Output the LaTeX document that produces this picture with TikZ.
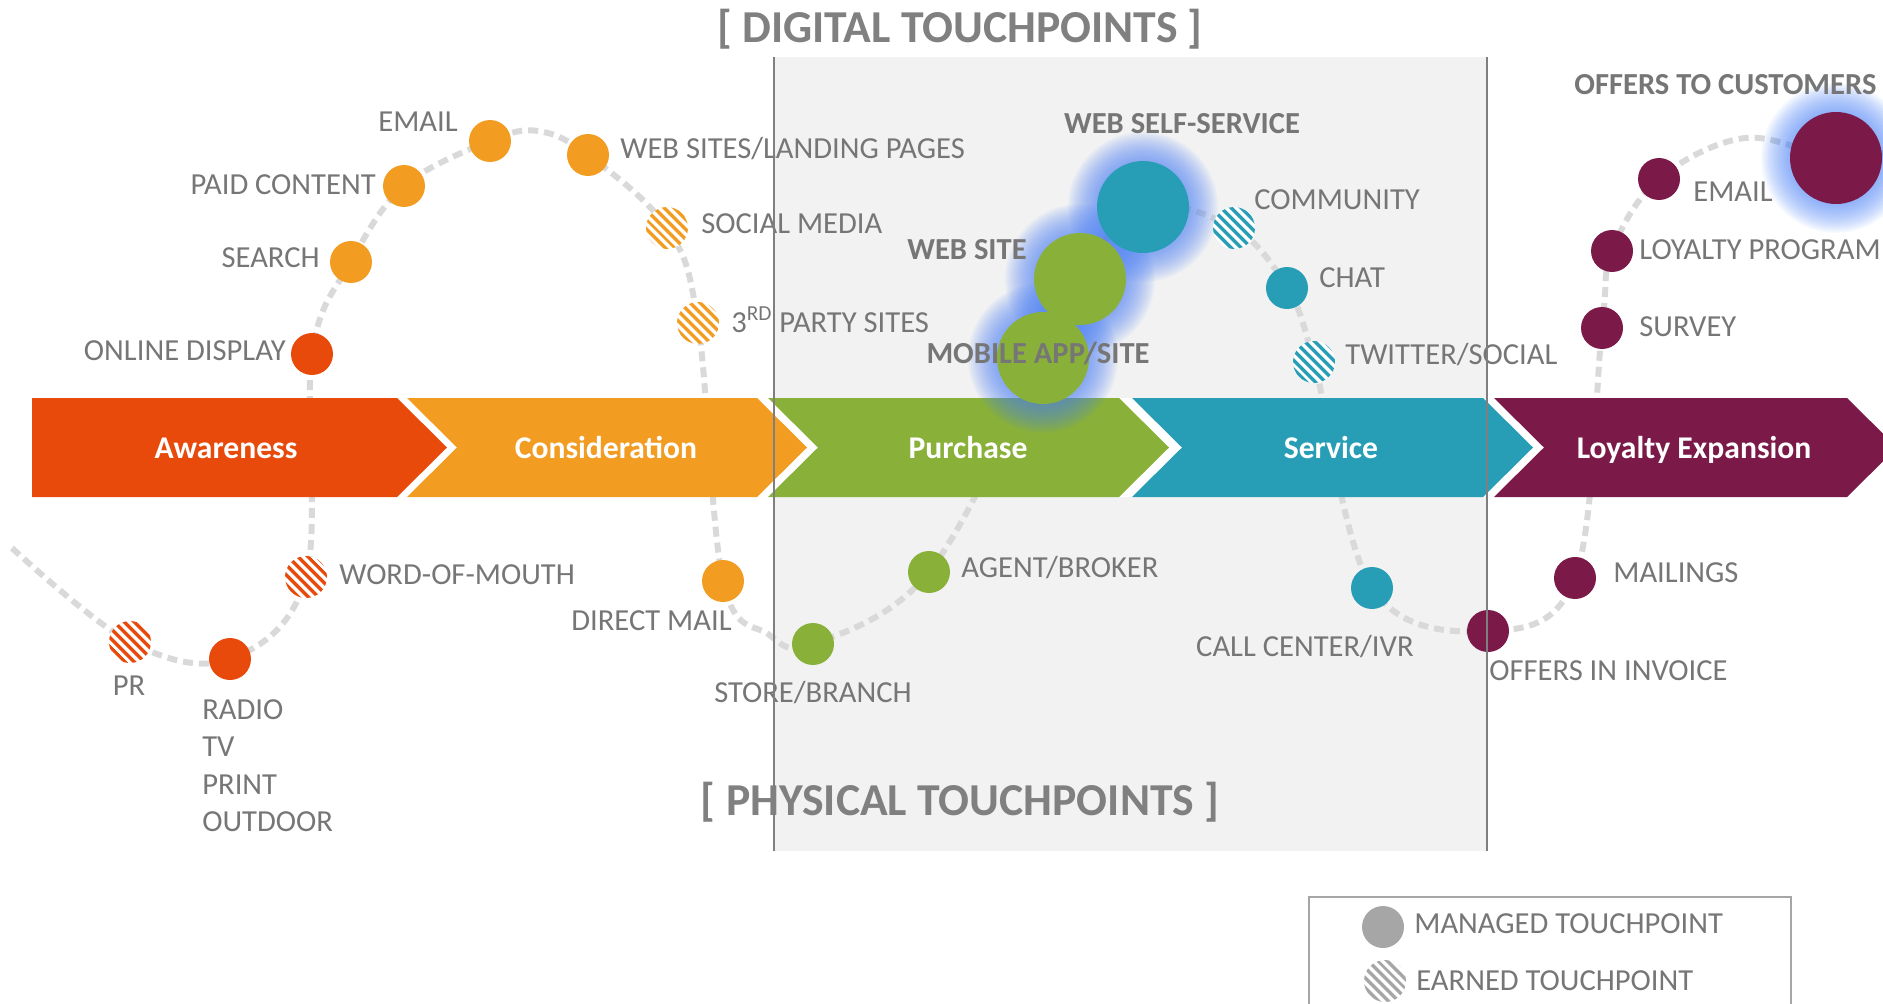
\documentclass[tikz,border=0pt]{standalone}
\usepackage{fontspec}
\setmainfont{Carlito}
\usepackage{tikz}
\usetikzlibrary{positioning, patterns.meta}

\definecolor{awareC}{HTML}{E84A0C}
\definecolor{considC}{HTML}{F29C22}
\definecolor{purchC}{HTML}{89B13A}
\definecolor{servC}{HTML}{279EB6}
\definecolor{loyalC}{HTML}{7B1A48}
\definecolor{labelgray}{HTML}{767676}
\definecolor{headgray}{HTML}{808080}
\definecolor{trailgray}{HTML}{D9D9D9}
\definecolor{panelgray}{HTML}{F2F2F2}
\definecolor{edgegray}{HTML}{7F7F7F}
\definecolor{legendgray}{HTML}{A6A6A6}
\definecolor{glowblue}{HTML}{4A80F5}

\pgfdeclarelayer{panel}
\pgfdeclarelayer{trail}
\pgfdeclarelayer{band}
\pgfdeclarelayer{glow}
\pgfdeclarelayer{front}
\pgfsetlayers{panel,trail,band,glow,main,front}

\begin{document}
\begin{tikzpicture}[
            x=0.02cm, y=-0.02cm,
            tag/.style={text=labelgray, font=\fontsize{17.4}{20}\selectfont, inner sep=0pt},
            boldtag/.style={tag, font=\fontsize{17.4}{20}\selectfont\bfseries},
            stagetag/.style={text=white, font=\fontsize{18}{21}\selectfont\bfseries, inner sep=0pt, anchor=base},
            heading/.style={text=headgray, font=\fontsize{26}{30}\selectfont\bfseries, inner sep=0pt, anchor=base},
            managed/.style={circle, fill=#1, minimum size=0.84cm, inner sep=0pt},
            flagship/.style={circle, fill=#1, minimum size=1.84cm, inner sep=0pt},
            earned/.style={circle, minimum size=0.84cm, inner sep=0pt, preaction={fill=white},
                pattern={Lines[angle=-45, distance=4pt, line width=2pt]}, pattern color=#1},
            trail/.style={trailgray, line width=3.4pt, dash pattern=on 5.7pt off 3.4pt},
        ]
            \useasboundingbox (0,0) rectangle (1883,1004);

            \begin{pgfonlayer}{panel}
                \fill[panelgray] (774,57) rectangle (1487,851);
            \end{pgfonlayer}

            \begin{pgfonlayer}{band}
                \fill[white] (32,398) rectangle (1883,497);
                \fill[awareC] (32,398) -- (397,398) -- (447,447.5) -- (397,497) -- (32,497) -- cycle;
                \fill[considC] (407,398) -- (757,398) -- (807,447.5) -- (757,497) -- (407,497) -- (457,447.5) -- cycle;
                \fill[purchC] (768,398) -- (1119,398) -- (1169,447.5) -- (1119,497) -- (768,497) -- (818,447.5) -- cycle;
                \fill[servC] (1132,398) -- (1483,398) -- (1533,447.5) -- (1483,497) -- (1132,497) -- (1182,447.5) -- cycle;
                \fill[loyalC] (1494,398) -- (1847,398) -- (1897,447.5) -- (1847,497) -- (1494,497) -- (1544,447.5) -- cycle;
            \end{pgfonlayer}

            \node[heading] (digital) at (960,42) {[ DIGITAL TOUCHPOINTS ]};
            \node[heading] (physical) at (960,815) {[ PHYSICAL TOUCHPOINTS ]};

            \node[stagetag] (awareness) at (226,458) {Awareness};
            \node[stagetag] (consideration) at (606,458) {Consideration};
            \node[stagetag] (purchase) at (968,458) {Purchase};
            \node[stagetag] (service) at (1331,458) {Service};
            \node[stagetag] (loyalty) at (1694,458) {Loyalty Expansion};

            \node[earned=awareC] (pr) at (130,642) {};
            \node[managed=awareC] (radio) at (230,659) {};
            \node[earned=awareC] (wom) at (306,577) {};
            \node[managed=awareC] (online) at (312,354) {};
            \node[managed=considC] (search) at (351,262) {};
            \node[managed=considC] (paid) at (404,186) {};
            \node[managed=considC] (email) at (490,141) {};
            \node[managed=considC] (websites) at (588,155) {};
            \node[earned=considC] (social) at (667,228) {};
            \node[earned=considC] (third) at (698,323) {};
            \node[managed=considC] (direct) at (723,581) {};
            \node[managed=purchC] (store) at (813,644) {};
            \node[managed=purchC] (agent) at (929,572) {};
            \node[flagship=purchC] (mobile) at (1043,358) {};
            \node[flagship=purchC] (website) at (1080,279) {};
            \node[flagship=servC] (selfserv) at (1143,207) {};
            \node[earned=servC] (community) at (1234,228) {};
            \node[managed=servC] (chat) at (1287,288) {};
            \node[earned=servC] (twitter) at (1314,362) {};
            \node[managed=servC] (callc) at (1372,588) {};
            \node[managed=loyalC] (invoice) at (1488,631) {};
            \node[managed=loyalC] (mailings) at (1575,578) {};
            \node[managed=loyalC] (survey) at (1602,328) {};
            \node[managed=loyalC] (loyprog) at (1612,251) {};
            \node[managed=loyalC] (email2) at (1659,179) {};
            \node[flagship=loyalC] (offers) at (1836,158) {};

            \coordinate (t0) at (12,548);
            \coordinate (t1) at (538,131);
            \coordinate (t2) at (768,634);
            \coordinate (t3) at (1745,138);
            \coordinate (t4) at (1895,150);

            \begin{pgfonlayer}{trail}
                \draw[trail] plot[smooth, tension=0.6] coordinates {(t0) (pr) (radio) (wom) (online) (search) (paid) (email) (t1) (websites) (social) (third) (direct) (t2) (store) (agent) (mobile) (website) (selfserv) (community) (chat) (twitter) (callc) (invoice) (mailings) (survey) (loyprog) (email2) (t3) (offers) (t4)};
            \end{pgfonlayer}

            \begin{pgfonlayer}{glow}
                \foreach \hub in {mobile, website, selfserv, offers}
                    \foreach \k in {1,...,14}
                        \fill[glowblue, opacity=0.065] (\hub) circle [radius=44+2.2*\k];
            \end{pgfonlayer}

            \node[tag, anchor=base east] (emailtag) at (458,131) {EMAIL};
            \node[tag, anchor=base east] (paidtag) at (376,194) {PAID CONTENT};
            \node[tag, anchor=base east] (searchtag) at (320,267) {SEARCH};
            \node[tag, anchor=base east] (onlinetag) at (286,360) {ONLINE DISPLAY};
            \node[tag, anchor=base west] (websitestag) at (620,158) {WEB SITES/LANDING PAGES};
            \node[tag, anchor=base west] (socialtag) at (701,233) {SOCIAL MEDIA};
            \node[tag, anchor=base west] (thirdtag) at (731,332) {3\textsuperscript{RD} PARTY SITES};
            \node[tag, anchor=base west] (womtag) at (339,584) {WORD-OF-MOUTH};
            \node[tag, anchor=base] (prtag) at (129,695) {PR};
            \node[tag, anchor=north west, align=left, font=\fontsize{17.4}{21.3}\selectfont] (radiotag) at (202,699) {RADIO\\TV\\PRINT\\OUTDOOR};
            \node[tag, anchor=base east] (directtag) at (732,630) {DIRECT MAIL};
            \node[tag, anchor=base] (storetag) at (813,702) {STORE/BRANCH};
            \node[tag, anchor=base west] (agenttag) at (961,577) {AGENT/BROKER};
            \node[boldtag, anchor=base] (selfservtag) at (1182,133) {WEB SELF-SERVICE};
            \node[boldtag, anchor=base east] (websitetag) at (1027,259) {WEB SITE};
            \node[boldtag, anchor=base] (mobiletag) at (1038,363) {MOBILE APP/SITE};
            \node[tag, anchor=base west] (communitytag) at (1254,209) {COMMUNITY};
            \node[tag, anchor=base west] (chattag) at (1319,287) {CHAT};
            \node[tag, anchor=base west] (twittertag) at (1345,364) {TWITTER/SOCIAL};
            \node[tag, anchor=base east] (callctag) at (1414,656) {CALL CENTER/IVR};
            \node[tag, anchor=base west] (invoicetag) at (1489,680) {OFFERS IN INVOICE};
            \node[tag, anchor=base west] (mailingstag) at (1613,582) {MAILINGS};
            \node[tag, anchor=base west] (surveytag) at (1639,336) {SURVEY};
            \node[tag, anchor=base west] (loyprogtag) at (1639,259) {LOYALTY PROGRAM};
            \node[tag, anchor=base west] (email2tag) at (1693,201) {EMAIL};
            \node[boldtag, anchor=base west] (offerstag) at (1574,94) {OFFERS TO CUSTOMERS};

            \draw[legendgray, line width=0.6pt] (1309,897) rectangle (1791,1030);
            \node[managed=legendgray] (keymanaged) at (1383,927) {};
            \node[tag, anchor=base west] (keymanagedtag) at (1414,933) {MANAGED TOUCHPOINT};
            \node[earned=legendgray] (keyearned) at (1385,981) {};
            \node[tag, anchor=base west] (keyearnedtag) at (1416,990) {EARNED TOUCHPOINT};

            \begin{pgfonlayer}{front}
                \draw[edgegray, line width=0.9pt] (774,57) -- (774,851);
                \draw[edgegray, line width=0.9pt] (1487,57) -- (1487,851);
            \end{pgfonlayer}
        \end{tikzpicture}
\end{document}
